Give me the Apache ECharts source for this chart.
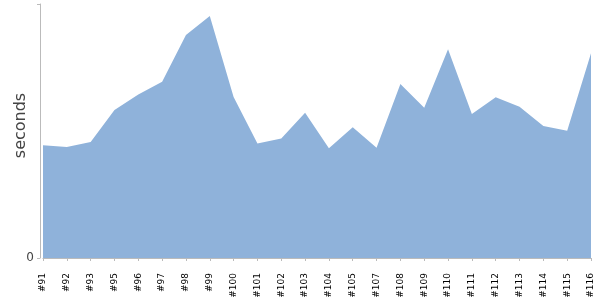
<!DOCTYPE html>
<html>
<head>
<meta charset="utf-8">
<script src="https://cdn.jsdelivr.net/npm/echarts@6/dist/echarts.min.js"></script>
<style>html,body{margin:0;padding:0;background:#fff}#c{width:600px;height:300px}</style>
</head>
<body>
<div id="c"></div>
<script>
const categories = ['#91','#92','#93','#95','#96','#97','#98','#99','#100','#101','#102','#103','#104','#105','#107','#108','#109','#110','#111','#112','#113','#114','#115','#116'];
const seconds = [11.27,11.10,11.60,14.80,16.35,17.63,22.30,24.20,16.10,11.45,11.95,14.53,10.97,13.07,11.03,17.40,15.03,20.87,14.40,16.07,15.13,13.20,12.73,20.47];
const yMax = 25.4;

const chart = echarts.init(document.getElementById('c'), null, {renderer:'canvas'});
chart.setOption({
  animation:false,
  textStyle:{fontFamily:'DejaVu Sans'},
  grid:{left:43,right:9,top:4,bottom:42,containLabel:false,outerBoundsMode:'none'},
  xAxis:{
    type:'category', data:categories, boundaryGap:false, offset:5,
    axisLine:{lineStyle:{color:'#bbbbbb',width:1}},
    axisTick:{show:true,length:3,interval:0,lineStyle:{color:'#bbbbbb'}},
    axisLabel:{interval:0,rotate:90,fontSize:9,color:'#000',margin:10,fontFamily:'DejaVu Sans'},
    splitLine:{show:false}
  },
  yAxis:{
    type:'value', min:0, max:yMax, interval:yMax, offset:3,
    name:'seconds', nameLocation:'middle', nameGap:11, nameMoveOverlap:false,
    nameTextStyle:{fontSize:16,color:'#444',fontFamily:'DejaVu Sans',padding:[0,0,0,11]},
    axisLine:{show:true,lineStyle:{color:'#bbbbbb',width:1}},
    axisTick:{show:true,length:3,lineStyle:{color:'#bbbbbb'}},
    axisLabel:{fontSize:12,color:'#444',margin:6,formatter:v=>v===0?'0':''},
    splitLine:{show:false}
  },
  series:[{
    type:'line', data:seconds, symbol:'none', showSymbol:false,
    lineStyle:{width:0},
    areaStyle:{color:'#8fb2da',opacity:1},
    itemStyle:{color:'#8fb2da'}
  }]
});
</script>
</body>
</html>
